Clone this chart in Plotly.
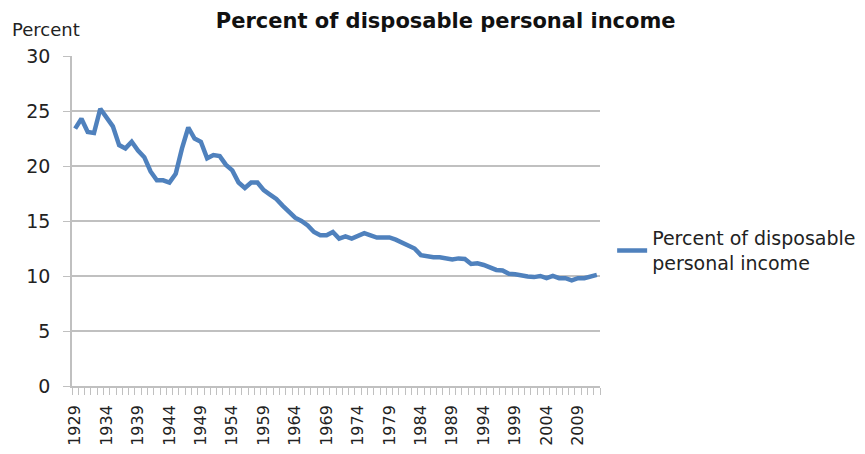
import plotly.graph_objects as go

years = list(range(1929, 2013))
values = [
    23.4, 24.3, 23.1, 23.0, 25.2, 24.4, 23.6, 21.9, 21.6, 22.2,
    21.4, 20.8, 19.5, 18.7, 18.7, 18.5, 19.3, 21.6, 23.5, 22.5,
    22.2, 20.7, 21.0, 20.9, 20.1, 19.6, 18.5, 18.0, 18.5, 18.5,
    17.8, 17.4, 17.0, 16.4, 15.8, 15.3, 15.0, 14.6, 14.0, 13.7,
    13.7, 14.0, 13.4, 13.6, 13.4, 13.65, 13.9, 13.7, 13.5, 13.5,
    13.5, 13.3, 13.05, 12.7, 12.5, 11.9, 11.75, 11.7, 11.7, 11.6,
    11.5, 11.6, 11.55, 11.1, 11.15, 11.0, 10.8, 10.55, 10.5, 10.2,
    10.15, 10.0, 9.95, 9.9, 10.0, 9.8, 10.0, 9.8, 9.8, 9.6,
    9.8, 9.8, 9.9, 10.1,
]
tick_years = list(range(1929, 2013, 5))
series_name = "Percent of disposable<br>personal income"
title_text = "Percent of disposable personal income"
y_title = "Percent"

FONT = "DejaVu Sans"
GRID = "#c0c0c0"

fig = go.Figure()
fig.add_trace(go.Scatter(
    x=years, y=values, mode="lines", name=series_name,
    line=dict(color="#4f81bd", width=4.5),
))

fig.update_layout(
    width=865, height=454,
    margin=dict(l=64, r=271, t=48, b=76),
    paper_bgcolor="white", plot_bgcolor="white",
    font=dict(family=FONT, color="#222222"),
    title=dict(text="<b>" + title_text + "</b>", x=0.506, xanchor="center",
               y=0.972, yanchor="middle", automargin=False,
               font=dict(size=21, family=FONT, color="#111111")),
    showlegend=True,
    legend=dict(x=1.023, xanchor="left", y=0.41, yanchor="middle",
                font=dict(size=19, family=FONT, color="#222222"),
                bgcolor="rgba(0,0,0,0)", itemwidth=30),
    annotations=[dict(text=y_title, xref="paper", yref="paper",
                      x=-0.118, y=1.08, xanchor="left", yanchor="middle",
                      showarrow=False, font=dict(size=18, family=FONT, color="#222222"))],
)

fig.update_xaxes(
    range=[1928.5, 2012.5], automargin=False,
    tickmode="array", tickvals=tick_years, ticktext=[str(y) for y in tick_years],
    tickangle=-90, tickfont=dict(size=16, family=FONT, color="#222222"),
    ticks="", showgrid=False, zeroline=False,
    showline=True, linecolor=GRID, linewidth=1.5,
    ticklabelstandoff=11,
    minor=dict(tickmode="linear", tick0=1928.5, dtick=1, ticks="outside",
               ticklen=7, tickcolor=GRID, tickwidth=1, showgrid=False),
)
fig.update_yaxes(
    range=[0, 30], tickmode="linear", tick0=0, dtick=5, automargin=False,
    tickfont=dict(size=19, family=FONT, color="#222222"),
    ticks="outside", ticklen=7, tickcolor=GRID,
    showgrid=True, gridcolor=GRID, gridwidth=1.5, zeroline=False,
    showline=True, linecolor=GRID, linewidth=1.5,
    ticklabelstandoff=9,
)

fig.write_html("out.html")
